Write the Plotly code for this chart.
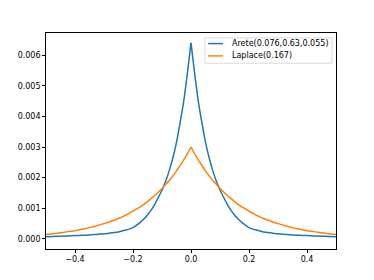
import plotly.graph_objects as go

# x positions of sampled points
x_vals = [-0.5, -0.475, -0.45, -0.425, -0.4, -0.375, -0.35, -0.325, -0.3, -0.275,
          -0.25, -0.225, -0.2, -0.1875, -0.175, -0.1625, -0.15, -0.1375, -0.125, -0.1125,
          -0.1, -0.0875, -0.075, -0.0625, -0.05, -0.0375, -0.025, -0.0125, 0.0,
          0.0125, 0.025, 0.0375, 0.05, 0.0625, 0.075, 0.0875, 0.1,
          0.1125, 0.125, 0.1375, 0.15, 0.1625, 0.175, 0.1875, 0.2,
          0.225, 0.25, 0.275, 0.3, 0.325, 0.35, 0.375, 0.4, 0.425, 0.45, 0.475, 0.5]

arete_vals = [0.00007, 0.00008, 0.00009, 0.0001, 0.00011, 0.00012, 0.00013, 0.00015, 0.00017, 0.0002,
              0.00023, 0.00029, 0.00037, 0.00045, 0.00054, 0.00065, 0.00078, 0.00094, 0.00113, 0.00136,
              0.00159, 0.00188, 0.00223, 0.00265, 0.00315, 0.0038, 0.0045, 0.0054, 0.0064,
              0.0054, 0.0045, 0.0038, 0.00315, 0.00265, 0.00223, 0.00188, 0.00159,
              0.00136, 0.00113, 0.00094, 0.00078, 0.00065, 0.00054, 0.00045, 0.00037,
              0.00029, 0.00023, 0.0002, 0.00017, 0.00015, 0.00013, 0.00012, 0.00011, 0.0001, 0.00009, 0.00008, 0.00007]

laplace_vals = [0.00015, 0.00017, 0.0002, 0.00024, 0.00027, 0.00032, 0.00037, 0.00043, 0.0005, 0.00058,
                0.00067, 0.00078, 0.00091, 0.00098, 0.00105, 0.00113, 0.00122, 0.00132, 0.00142, 0.00153,
                0.00165, 0.00178, 0.00191, 0.00206, 0.00222, 0.0024, 0.00258, 0.00278, 0.003,
                0.00278, 0.00258, 0.0024, 0.00222, 0.00206, 0.00191, 0.00178, 0.00165,
                0.00153, 0.00142, 0.00132, 0.00122, 0.00113, 0.00105, 0.00098, 0.00091,
                0.00078, 0.00067, 0.00058, 0.0005, 0.00043, 0.00037, 0.00032, 0.00027, 0.00024, 0.0002, 0.00017, 0.00015]

series_names = ["Arete(0.076,0.63,0.055)", "Laplace(0.167)"]
series_colors = ["#1f77b4", "#ff7f0e"]

x_tickvals = [-0.4, -0.2, 0.0, 0.2, 0.4]
x_ticktext = ["\u22120.4", "\u22120.2", "0.0", "0.2", "0.4"]
y_tickvals = [0.0, 0.001, 0.002, 0.003, 0.004, 0.005, 0.006]
y_ticktext = ["0.000", "0.001", "0.002", "0.003", "0.004", "0.005", "0.006"]

FONT = "DejaVu Sans"

# split each curve at its peak so the cusp stays sharp while the flanks are smooth
peak = x_vals.index(0.0)
fig = go.Figure()
for vals, name, col in zip([arete_vals, laplace_vals], series_names, series_colors):
    for sl in (slice(0, peak + 1), slice(peak, None)):
        fig.add_trace(go.Scatter(x=x_vals[sl], y=vals[sl], mode="lines", name=name,
                                 line=dict(color=col, width=1.5, shape="spline", smoothing=0.6),
                                 showlegend=False))

axis_common = dict(showline=True, mirror=True, linecolor="black", linewidth=0.7,
                   ticks="outside", ticklen=3, tickwidth=0.7, tickcolor="black",
                   showgrid=False, zeroline=False,
                   tickfont=dict(family=FONT, size=8, color="black"))

fig.update_layout(
    width=374, height=280,
    margin=dict(l=46, r=38, t=33, b=31),
    paper_bgcolor="white", plot_bgcolor="white",
    font=dict(family=FONT, size=8, color="black"),
    xaxis=dict(range=[-0.5, 0.5], tickmode="array", tickvals=x_tickvals,
               ticktext=x_ticktext, **axis_common),
    yaxis=dict(range=[-0.000327, 0.00672], tickmode="array", tickvals=y_tickvals,
               ticktext=y_ticktext, **axis_common),
)

# manual legend (matplotlib style)
leg_x0, leg_x1 = 0.548, 0.986
leg_y0, leg_y1 = 0.860, 0.977
row_y = [0.951, 0.894]
fig.add_shape(type="rect", xref="paper", yref="paper", x0=leg_x0, x1=leg_x1,
              y0=leg_y0, y1=leg_y1, line=dict(color="#cccccc", width=0.7),
              fillcolor="rgba(255,255,255,0.8)", layer="above")
for ry, name, col in zip(row_y, series_names, series_colors):
    fig.add_shape(type="line", xref="paper", yref="paper", x0=0.559, x1=0.610,
                  y0=ry, y1=ry, line=dict(color=col, width=1.5), layer="above")
    fig.add_annotation(xref="paper", yref="paper", x=0.637, y=ry, text=name,
                       showarrow=False, xanchor="left", yanchor="middle", borderpad=0,
                       font=dict(family=FONT, size=8, color="black"))

fig.write_html("out.html", config={"displayModeBar": False},
               post_script="document.body.style.margin='0';")
